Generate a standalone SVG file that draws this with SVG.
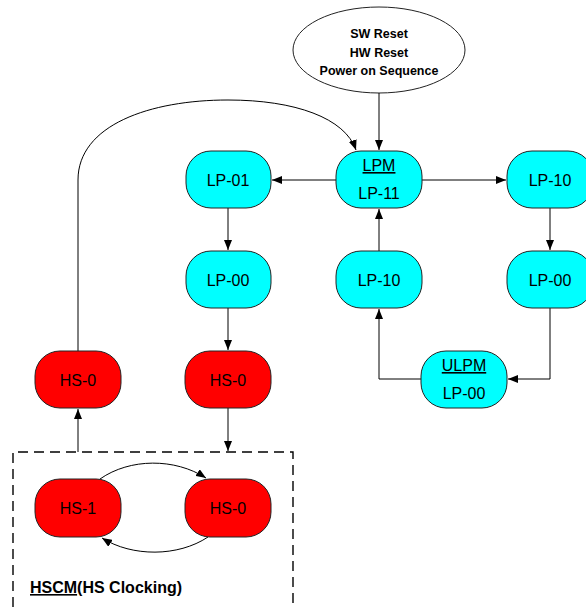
<svg xmlns="http://www.w3.org/2000/svg" width="586" height="607" viewBox="0 0 586 607">
  <style>
    .lp { fill: #00FFFF; stroke: #222; stroke-width: 1; }
    .hs { fill: #FF0000; stroke: #222; stroke-width: 1; }
    .lbl { font-family: "Liberation Sans", Arial, sans-serif; font-size: 16px; fill: #000; text-anchor: middle; }
    .bold { font-family: "Liberation Sans", Arial, sans-serif; font-size: 12.5px; font-weight: bold; fill: #000; text-anchor: middle; }
    .edge { fill: none; stroke: #000; stroke-width: 1; }
  </style>
  <defs>
    <marker id="arrow" viewBox="0 0 10 8" refX="10" refY="4" markerWidth="10" markerHeight="8" markerUnits="userSpaceOnUse" orient="auto">
      <path d="M0,0 L10,4 L0,8 Z" fill="#000"/>
    </marker>
  </defs>

  <!-- reset source -->
  <g id="reset">
    <ellipse cx="379" cy="50" rx="86" ry="43" fill="#fff" stroke="#222" stroke-width="1"/>
    <text class="bold" x="379" y="38">SW Reset</text>
    <text class="bold" x="379" y="57">HW Reset</text>
    <text class="bold" x="379" y="75">Power on Sequence</text>
  </g>

  <!-- connectors -->
  <g id="connectors">
    <path class="edge" d="M379,93 V150" marker-end="url(#arrow)"/>
    <path class="edge" d="M78,351 V180 C78,125 150,100 228,100 C295,100 345,118 356,150" marker-end="url(#arrow)"/>
    <path class="edge" d="M336,180 H272" marker-end="url(#arrow)"/>
    <path class="edge" d="M422,180 H506" marker-end="url(#arrow)"/>
    <path class="edge" d="M550,208 V250" marker-end="url(#arrow)"/>
    <path class="edge" d="M228,208 V250" marker-end="url(#arrow)"/>
    <path class="edge" d="M228,308 V350" marker-end="url(#arrow)"/>
    <path class="edge" d="M379,251 V209" marker-end="url(#arrow)"/>
    <path class="edge" d="M421,379 H379 V309" marker-end="url(#arrow)"/>
    <path class="edge" d="M550,308 V379 H508" marker-end="url(#arrow)"/>
    <path class="edge" d="M228,408 V451" marker-end="url(#arrow)"/>
    <path class="edge" d="M78,452 V409" marker-end="url(#arrow)"/>
    <path class="edge" d="M100,479 C130,458 175,458 206,478" marker-end="url(#arrow)"/>
    <path class="edge" d="M208,537 C178,557 132,557 102,538" marker-end="url(#arrow)"/>
  </g>

  <!-- HS clocking region -->
  <g id="hscm">
    <path d="M13,607 V452 H293 V607" fill="none" stroke="#000" stroke-width="1.4" stroke-dasharray="10,6"/>
    <text x="30" y="593" font-family="'Liberation Sans', Arial, sans-serif" font-size="16px" font-weight="bold"><tspan text-decoration="underline">HSCM</tspan>(HS Clocking)</text>
  </g>

  <g id="lpm">
    <rect class="lp" x="336" y="151" width="86" height="57" rx="25"/>
    <text class="lbl" x="379" y="171" text-decoration="underline">LPM</text>
    <text class="lbl" x="379" y="199">LP-11</text>
  </g>
  <g id="lp01">
    <rect class="lp" x="186" y="151" width="85" height="57" rx="25"/>
    <text class="lbl" x="228" y="186">LP-01</text>
  </g>
  <g id="lp10-right">
    <rect class="lp" x="507" y="151" width="86" height="57" rx="25"/>
    <text class="lbl" x="550" y="186">LP-10</text>
  </g>
  <g id="lp00-left">
    <rect class="lp" x="186" y="251" width="85" height="57" rx="25"/>
    <text class="lbl" x="228" y="286">LP-00</text>
  </g>
  <g id="lp10-mid">
    <rect class="lp" x="336" y="251" width="86" height="57" rx="25"/>
    <text class="lbl" x="379" y="286">LP-10</text>
  </g>
  <g id="lp00-right">
    <rect class="lp" x="507" y="251" width="86" height="57" rx="25"/>
    <text class="lbl" x="550" y="286">LP-00</text>
  </g>
  <g id="ulpm">
    <rect class="lp" x="421" y="351" width="86" height="57" rx="25"/>
    <text class="lbl" x="464" y="371" text-decoration="underline">ULPM</text>
    <text class="lbl" x="464" y="399">LP-00</text>
  </g>
  <g id="hs0-a">
    <rect class="hs" x="35" y="351" width="86" height="57" rx="25"/>
    <text class="lbl" x="78" y="386">HS-0</text>
  </g>
  <g id="hs0-b">
    <rect class="hs" x="185" y="351" width="86" height="57" rx="25"/>
    <text class="lbl" x="228" y="386">HS-0</text>
  </g>
  <g id="hs1">
    <rect class="hs" x="35" y="479" width="86" height="58" rx="25"/>
    <text class="lbl" x="78" y="514">HS-1</text>
  </g>
  <g id="hs0-c">
    <rect class="hs" x="185" y="479" width="86" height="58" rx="25"/>
    <text class="lbl" x="228" y="514">HS-0</text>
  </g>
</svg>
